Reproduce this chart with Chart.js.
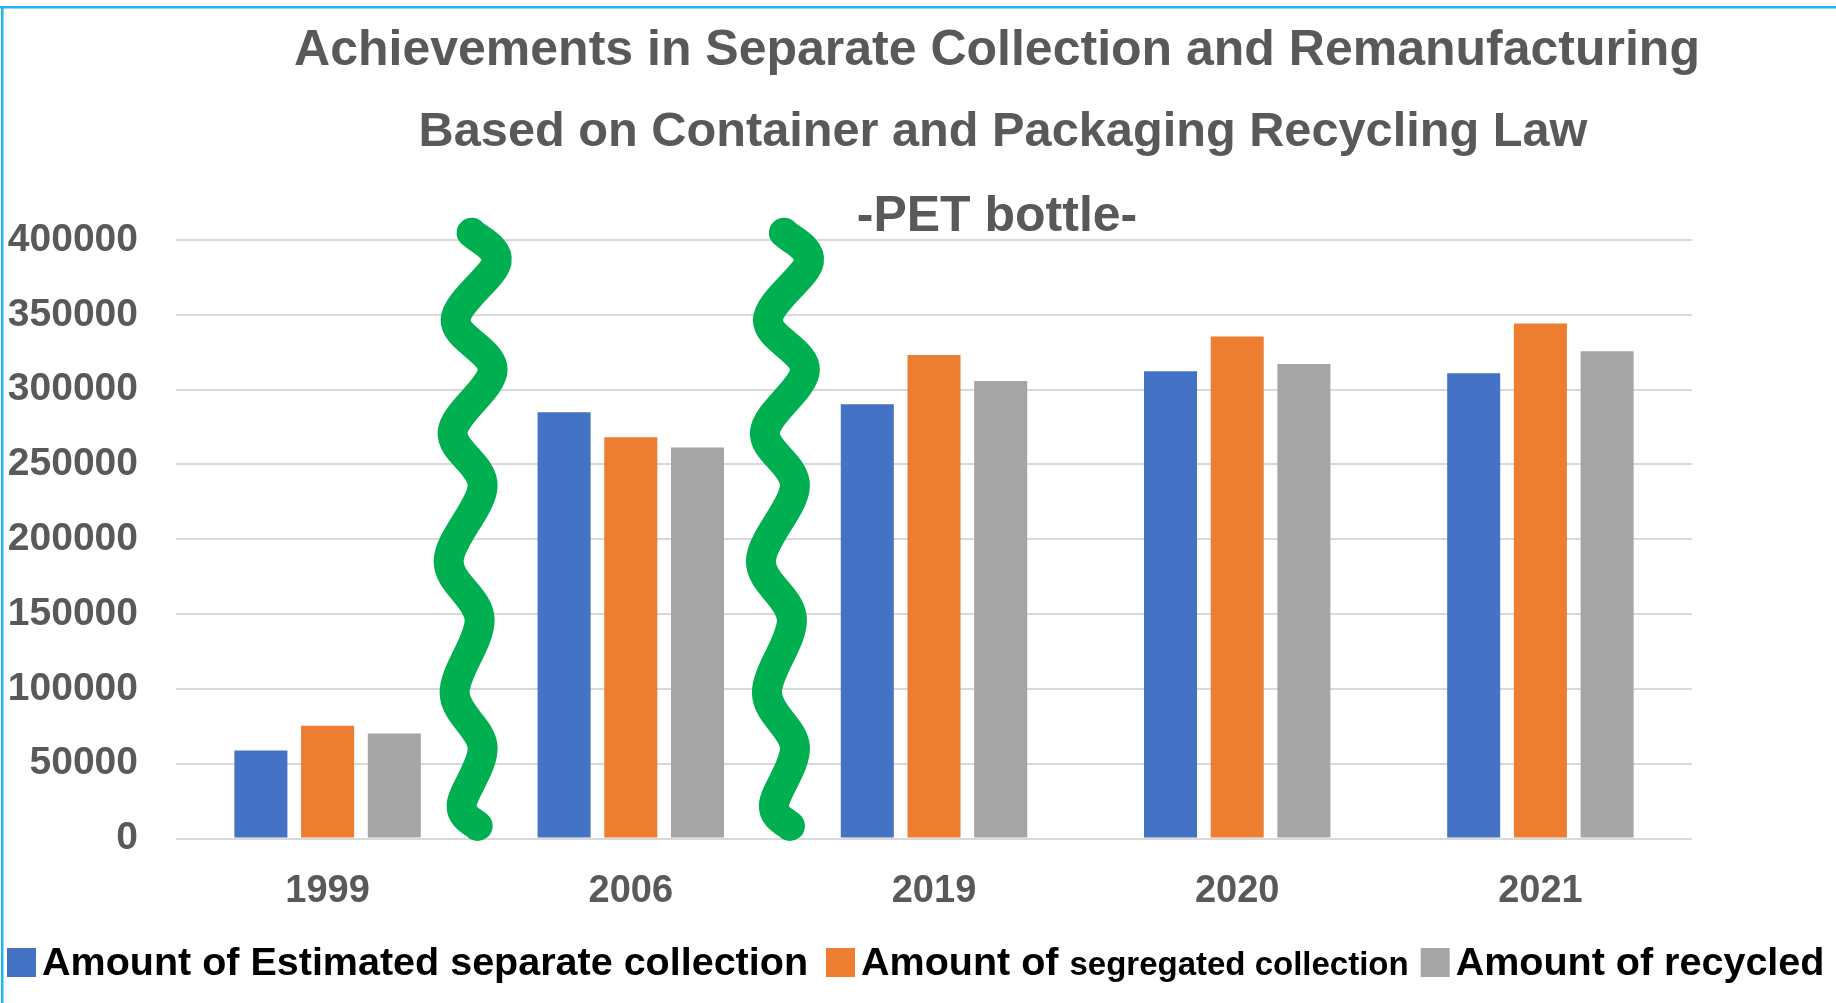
<!DOCTYPE html>
<html lang="en">
<head>
  <meta charset="UTF-8" />
  <title>PET bottle - Separate Collection and Remanufacturing</title>
  <script src="https://cdn.jsdelivr.net/npm/chart.js"></script>
  <style>
    html, body { margin: 0; padding: 0; background: #fff; }
    #wrap { position: relative; width: 1836px; height: 1003px; }
  </style>
</head>
<body>
<div id="wrap"><canvas id="petChart" width="1836" height="1003"></canvas></div>

<script>
  // data (tonnes)
  const years = ['1999', '2006', '2019', '2020', '2021'];
  const estimated = [58800, 284900, 290200, 312300, 310900];
  const segregated = [75400, 268200, 323100, 335500, 344200];
  const recycled = [70100, 261300, 305700, 317200, 325700];
  const seriesNames = [
    'Amount of Estimated separate collection',
    'Amount of segregated collection',
    'Amount of recycled'
  ];
  const titleLines = [
    'Achievements in Separate Collection and Remanufacturing',
    'Based on Container and Packaging Recycling Law',
    '-PET bottle-'
  ];
  const yMax = 400000;
  const yStep = 50000;
  // the green break marks sit between these categories
  const breaks = [0.475, 1.505];

  const grey = '#595959';
  const font = '"Liberation Sans", Arial, sans-serif';

  // wavy break mark: [dx px from centre, y in axis units]
  const wave = [
    [0, 404800], [25, 385400], [-16, 346600], [21, 313200], [-19, 271700], [11, 235600],
    [-23, 185500], [8, 146700], [-17, 97300], [11, 61200], [-10, 22400], [6, 8400]
  ];

  const decorPlugin = {
    id: 'decor',
    beforeDraw(chart) {
      const ctx = chart.ctx;
      ctx.save();
      ctx.fillStyle = '#22b4ee';
      ctx.fillRect(0, 6, chart.width, 2.5);
      ctx.fillRect(1, 6, 2.5, chart.height);
      ctx.restore();
    },
    afterDatasetsDraw(chart) {
      const ctx = chart.ctx;
      const xs = chart.scales.x, ys = chart.scales.y;
      ctx.save();
      ctx.strokeStyle = '#00b050';
      ctx.lineWidth = 30;
      ctx.lineCap = 'round';
      ctx.lineJoin = 'round';
      breaks.forEach(b => {
        const cx = xs.getPixelForValue(b);
        const pts = wave.map(p => [cx + p[0], ys.getPixelForValue(p[1])]);
        ctx.beginPath();
        ctx.moveTo(pts[0][0], pts[0][1]);
        for (let i = 0; i < pts.length - 1; i++) {
          const p0 = pts[i - 1] || pts[i];
          const p1 = pts[i], p2 = pts[i + 1];
          const p3 = pts[i + 2] || p2;
          ctx.bezierCurveTo(
            p1[0] + (p2[0] - p0[0]) / 6, p1[1] + (p2[1] - p0[1]) / 6,
            p2[0] - (p3[0] - p1[0]) / 6, p2[1] - (p3[1] - p1[1]) / 6,
            p2[0], p2[1]
          );
        }
        ctx.stroke();
      });
      ctx.restore();
    },
    afterDraw(chart) {
      const ctx = chart.ctx;
      ctx.save();
      // titles
      ctx.fillStyle = grey;
      ctx.textAlign = 'center';
      ctx.textBaseline = 'alphabetic';
      ctx.font = 'bold 50px ' + font;
      ctx.fillText(titleLines[0], 997, 65);
      ctx.font = 'bold 48.7px ' + font;
      ctx.fillText(titleLines[1], 1003, 146);
      ctx.font = 'bold 50px ' + font;
      ctx.fillText(titleLines[2], 997, 231);

      // legend
      ctx.textAlign = 'left';
      const gaps = [18, 12, 0];
      let x = 7;
      chart.data.datasets.forEach((ds, i) => {
        ctx.fillStyle = ds.backgroundColor;
        ctx.fillRect(x, 948, 29, 29);
        x += 35;
        let head = ds.label, tail = '';
        if (i === 1) { head = 'Amount of '; tail = ds.label.slice(head.length); }
        ctx.fillStyle = '#000';
        ctx.font = 'bold 39.5px ' + font;
        ctx.fillText(head, x, 975);
        x += ctx.measureText(head).width;
        if (tail) {
          ctx.font = 'bold 33px ' + font;
          ctx.fillText(tail, x, 975);
          x += ctx.measureText(tail).width;
        }
        x += gaps[i];
      });
      ctx.restore();
    }
  };

  new Chart(document.getElementById('petChart'), {
    type: 'bar',
    data: {
      labels: years,
      datasets: [
        { label: seriesNames[0], data: estimated, backgroundColor: '#4472c4' },
        { label: seriesNames[1], data: segregated, backgroundColor: '#ed7d31' },
        { label: seriesNames[2], data: recycled, backgroundColor: '#a5a5a5' }
      ]
    },
    options: {
      responsive: false,
      devicePixelRatio: 1,
      animation: false,
      categoryPercentage: 0.66,
      barPercentage: 0.795,
      layout: { padding: { left: 8, right: 144, top: 240, bottom: 90 } },
      plugins: {
        legend: { display: false },
        title: { display: false },
        tooltip: { enabled: true }
      },
      scales: {
        x: {
          grid: { display: false },
          border: { display: false },
          ticks: { color: grey, padding: 22, font: { family: font, size: 38, weight: 'bold' } },
          afterFit(scale) { scale.height = 74.5; }
        },
        y: {
          min: 0,
          max: yMax,
          grid: { color: '#d9d9d9', lineWidth: 2, drawTicks: false },
          border: { display: false },
          ticks: {
            stepSize: yStep,
            color: grey,
            padding: 38,
            font: { family: font, size: 39, weight: 'bold' },
            callback: v => String(v)
          },
          afterFit(scale) { scale.width = 168; }
        }
      }
    },
    plugins: [decorPlugin]
  });
</script>
</body>
</html>
